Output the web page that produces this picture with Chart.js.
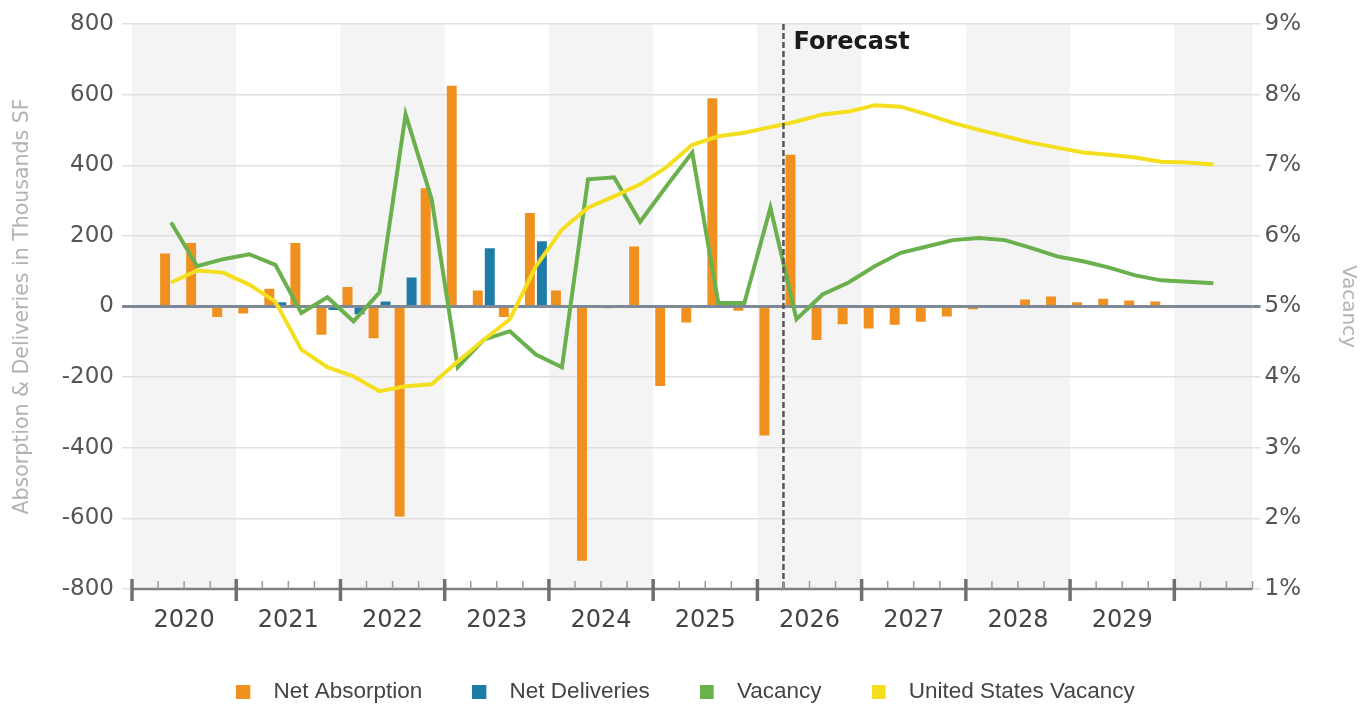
<!DOCTYPE html>
<html lang="en">
<head>
    <meta charset="UTF-8">
    <title>Absorption, Deliveries &amp; Vacancy</title>
    <script src="https://cdn.jsdelivr.net/npm/chart.js"></script>
    <style>
        html, body { margin: 0; padding: 0; background: #fff; }
        #wrap { width: 1371px; height: 713px; }
    </style>
</head>
<body>
<div id="wrap"><canvas id="chart" width="1371" height="713"></canvas></div>
<script>
    // quarters from 2020 Q1 to 2030 Q3
    const years = ['2020', '2021', '2022', '2023', '2024', '2025', '2026', '2027', '2028', '2029'];
    const quarters = [];
    years.concat(['2030']).forEach(y => ['Q1', 'Q2', 'Q3', 'Q4'].forEach(q => quarters.push(y + ' ' + q)));
    quarters.length = 43;

    const forecastStartIndex = 25; // 2026 Q2

    // thousands SF
    const netAbsorption = [
        null, 150, 180, -30,
        -20, 50, 180, -80,
        55, -90, -595, 335,
        625, 45, -30, 265,
        45, -720, -5, 170,
        -225, -45, 590, -12,
        -365, 430, -95, -50,
        -62, -52, -43, -28,
        -8, 0, 20, 28,
        12, 22, 17, 14,
        null, null, null
    ];
    const netDeliveries = [
        null, null, null, null,
        null, 12, null, -10,
        -22, 14, 82, null,
        null, 165, null, 185,
        null, null, null, null,
        null, null, null, null,
        null, null, null, null,
        null, null, null, null,
        null, null, null, null,
        null, null, null, null,
        null, null, null
    ];
    // percent
    const vacancy = [
        null, 6.19, 5.57, 5.67,
        5.74, 5.59, 4.91, 5.13,
        4.79, 5.20, 7.72, 6.52,
        4.14, 4.53, 4.65, 4.32,
        4.14, 6.80, 6.83, 6.20,
        6.70, 7.18, 5.05, 5.05,
        6.40, 4.82, 5.17, 5.34,
        5.57, 5.76, 5.85, 5.94,
        5.97, 5.94, 5.83, 5.71,
        5.64, 5.55, 5.44, 5.37,
        5.35, 5.33, null
    ];
    const usVacancy = [
        null, 5.34, 5.51, 5.48,
        5.31, 5.07, 4.39, 4.14,
        4.01, 3.80, 3.87, 3.90,
        4.22, 4.53, 4.82, 5.57,
        6.09, 6.40, 6.56, 6.73,
        6.97, 7.29, 7.41, 7.46,
        7.54, 7.62, 7.72, 7.76,
        7.85, 7.83, 7.72, 7.60,
        7.50, 7.41, 7.32, 7.25,
        7.18, 7.15, 7.11, 7.05,
        7.04, 7.01, null
    ];

    const colors = ['#f0901f', '#1e7da6', '#6ab04c', '#f3df1d'];

    Chart.defaults.font.family = '"DejaVu Sans", sans-serif';

    // legend square with extra room on its right
    function swatch(color) {
        const c = document.createElement('canvas');
        c.width = 26; c.height = 14;
        const g = c.getContext('2d');
        g.fillStyle = color;
        g.fillRect(0, 0, 14, 14);
        return c;
    }

    const bandsPlugin = {
        id: 'bands',
        beforeDraw(chart) {
            const {ctx, chartArea: a} = chart;
            const xs = chart.scales.xl;
            ctx.save();
            ctx.fillStyle = '#fff';
            ctx.fillRect(0, 0, chart.width, chart.height);
            ctx.fillStyle = '#f4f4f4';
            for (let k = 0; k <= 10; k += 2) {
                const x0 = xs.getPixelForValue(k * 4);
                const x1 = xs.getPixelForValue(Math.min(k * 4 + 4, quarters.length));
                ctx.fillRect(x0, a.top, x1 - x0, a.bottom - a.top);
            }
            ctx.restore();
        },
        // zero line over the bars, under the lines
        afterDatasetDraw(chart, args) {
            if (args.index !== 0) return;
            const {ctx, chartArea: a} = chart;
            const y = chart.scales.y.getPixelForValue(0);
            ctx.save();
            ctx.strokeStyle = '#7d8996';
            ctx.lineWidth = 3;
            ctx.beginPath();
            ctx.moveTo(a.left, y);
            ctx.lineTo(a.right, y);
            ctx.stroke();
            ctx.restore();
        },
        afterDatasetsDraw(chart) {
            const {ctx, chartArea: a} = chart;
            const x = chart.scales.xl.getPixelForValue(forecastStartIndex);
            ctx.save();
            ctx.strokeStyle = '#555';
            ctx.lineWidth = 2.5;
            ctx.setLineDash([6, 3]);
            ctx.beginPath();
            ctx.moveTo(x, a.top);
            ctx.lineTo(x, a.bottom);
            ctx.stroke();
            ctx.setLineDash([]);
            ctx.fillStyle = '#1b1b1b';
            ctx.font = 'bold 24px "DejaVu Sans", sans-serif';
            ctx.textBaseline = 'middle';
            ctx.fillText('Forecast', x + 10, a.top + 19);
            ctx.restore();
        },
        afterDraw(chart) {
            const {ctx, chartArea: a} = chart;
            const xs = chart.scales.xl;
            ctx.save();
            ctx.strokeStyle = '#808080';
            ctx.lineWidth = 2.5;
            ctx.beginPath();
            ctx.moveTo(a.left - 1, a.bottom);
            ctx.lineTo(a.right, a.bottom);
            ctx.stroke();
            for (let i = 0; i <= quarters.length; i++) {
                const x = xs.getPixelForValue(i);
                ctx.beginPath();
                if (i % 4 === 0) {
                    ctx.strokeStyle = '#707070';
                    ctx.lineWidth = 3.5;
                    ctx.moveTo(x, a.bottom - 10);
                    ctx.lineTo(x, a.bottom + 12);
                } else {
                    ctx.strokeStyle = '#9a9a9a';
                    ctx.lineWidth = 1.5;
                    ctx.moveTo(x, a.bottom - 8);
                    ctx.lineTo(x, a.bottom);
                }
                ctx.stroke();
            }
            ctx.restore();
        }
    };

    const ctx = document.getElementById('chart').getContext('2d');
    new Chart(ctx, {
        type: 'bar',
        data: {
            labels: quarters,
            datasets: [
                {
                    type: 'bar', label: 'Net Absorption', data: netAbsorption,
                    backgroundColor: colors[0], yAxisID: 'y', order: 3,
                    barPercentage: 0.83, categoryPercentage: 0.92
                },
                {
                    type: 'bar', label: 'Net Deliveries', data: netDeliveries,
                    backgroundColor: colors[1], yAxisID: 'y', order: 3,
                    barPercentage: 0.83, categoryPercentage: 0.92
                },
                {
                    type: 'line', label: 'Vacancy', data: vacancy,
                    borderColor: colors[2], backgroundColor: colors[2], borderWidth: 4,
                    pointRadius: 0, tension: 0, yAxisID: 'y2', order: 1
                },
                {
                    type: 'line', label: 'United States Vacancy', data: usVacancy,
                    borderColor: colors[3], backgroundColor: colors[3], borderWidth: 4,
                    pointRadius: 0, tension: 0, yAxisID: 'y2', order: 0
                }
            ]
        },
        options: {
            responsive: false,
            animation: false,
            layout: { padding: { top: 24, left: 0, right: 0, bottom: 0 } },
            plugins: {
                tooltip: { enabled: false },
                legend: {
                    position: 'bottom',
                    labels: {
                        usePointStyle: true,
                        pointStyleWidth: 26,
                        boxHeight: 14,
                        padding: 50,
                        color: '#444',
                        font: { size: 22.5, family: '"Liberation Sans", Arial, sans-serif' },
                        sort: (a, b) => a.datasetIndex - b.datasetIndex,
                        generateLabels: chart => Chart.defaults.plugins.legend.labels.generateLabels(chart)
                            .map(l => Object.assign(l, { pointStyle: swatch(colors[l.datasetIndex]) }))
                    }
                }
            },
            scales: {
                x: { display: false, offset: true },
                xl: {
                    type: 'linear', position: 'bottom', min: 0, max: quarters.length, offset: false,
                    grid: { display: false, offset: false }, border: { display: false },
                    afterBuildTicks: s => { s.ticks = years.map((y, i) => ({ value: i * 4 + 2 })); },
                    ticks: {
                        autoSkip: false, maxRotation: 0, padding: 9,
                        color: '#444', font: { size: 24 },
                        callback: v => years[(v - 2) / 4]
                    },
                    afterFit: s => { s.height = 41.5; }
                },
                y: {
                    position: 'left', min: -800, max: 800,
                    ticks: { stepSize: 200, color: '#555', font: { size: 23 }, padding: 8 },
                    grid: {
                        color: c => c.tick && c.tick.value === 0 ? '#7d8996' : '#e0e0e0',
                        lineWidth: c => c.tick && c.tick.value === 0 ? 3 : 1.5,
                        tickLength: 10
                    },
                    border: { display: false },
                    title: {
                        display: true, text: 'Absorption & Deliveries in Thousands SF',
                        color: '#b3b3b3', font: { size: 20.5 }, padding: { top: 10, bottom: 0 }
                    },
                    afterFit: s => { s.width = 132; }
                },
                y2: {
                    position: 'right', min: 1, max: 9,
                    ticks: { stepSize: 1, color: '#555', font: { size: 23 }, padding: 4, callback: v => v + '%' },
                    grid: {
                        drawOnChartArea: false,
                        color: c => c.tick && c.tick.value === 5 ? '#7d8996' : '#e0e0e0',
                        lineWidth: c => c.tick && c.tick.value === 5 ? 3 : 1.5,
                        tickLength: 8
                    },
                    border: { display: false },
                    title: {
                        display: true, text: 'Vacancy',
                        color: '#b3b3b3', font: { size: 20 }, padding: { top: 11, bottom: 0 }
                    },
                    afterFit: s => { s.width = 118.5; }
                }
            }
        },
        plugins: [bandsPlugin]
    });
</script>
</body>
</html>
